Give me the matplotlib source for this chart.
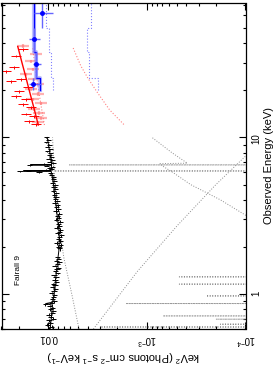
import numpy as np
import matplotlib
matplotlib.use("Agg")
import matplotlib.pyplot as plt
from matplotlib.ticker import FixedLocator, LogLocator, NullFormatter

plt.rcParams['font.family'] = ['Liberation Sans', 'DejaVu Sans']
plt.rcParams['mathtext.default'] = 'regular'

# ---- black spectrum (0.6-10 keV), E^2 F in units of 1e-3
blk_e = [0.60, 0.62, 0.64, 0.66, 0.68, 0.70, 0.72, 0.74, 0.76, 0.78, 0.80, 0.82,
         0.84, 0.86, 0.88, 0.90, 0.93, 0.96, 0.99, 1.02, 1.05, 1.08, 1.11, 1.14,
         1.17, 1.20, 1.24, 1.28, 1.32, 1.36, 1.40, 1.44, 1.48, 1.52, 1.56, 1.60,
         1.64, 1.68, 1.72]
blk_f = [9.8, 9.3, 10.3, 9.6, 9.9, 9.0, 9.5, 9.9, 9.2, 9.0, 9.6, 9.1,
         9.7, 10.8, 9.3, 8.8, 9.2, 8.9, 8.7, 9.3, 8.8, 8.5, 9.1, 8.6,
         8.9, 8.3, 8.6, 8.4, 8.8, 8.1, 8.5, 8.2, 8.0, 8.6, 8.1, 7.8,
         8.3, 7.9, 8.1]
blk_e2 = [1.96, 2.01, 2.06, 2.12, 2.18, 2.24, 2.30, 2.37, 2.44, 2.51, 2.58, 2.66,
          2.74, 2.82, 2.90, 2.99, 3.08, 3.17, 3.27, 3.37, 3.47, 3.58, 3.69, 3.80,
          3.92, 4.04, 4.16, 4.29, 4.42, 4.55, 4.69, 4.83, 4.98, 5.13, 5.28, 5.44,
          5.60, 5.76, 5.90, 6.00, 6.08, 6.14, 6.20, 6.30, 6.40, 6.50, 6.60, 6.68,
          6.76, 6.86, 7.00, 7.15, 7.30, 7.50, 7.70, 7.90, 8.15, 8.40, 8.70, 9.00,
          9.30, 9.65, 10.0]
blk_f2 = [7.7, 8.0, 7.5, 8.2, 7.6, 7.9, 7.8, 7.4, 8.1, 7.7, 7.6, 8.2,
          7.8, 8.0, 7.6, 8.3, 7.9, 8.1, 7.8, 8.4, 8.0, 8.3, 8.1, 8.6,
          8.2, 8.5, 8.4, 8.7, 8.3, 8.9, 8.5, 8.8, 8.6, 9.1, 8.7, 9.0,
          8.9, 9.3, 9.6, 12.5, 19.5, 16.0, 10.5, 9.3, 9.8, 9.1, 10.4, 15.5,
          11.0, 8.9, 9.7, 9.2, 9.9, 9.4, 9.8, 9.5, 10.3, 9.6, 10.2, 9.8,
          10.6, 10.0, 10.5]

# black total model (solid)
bmod_e = [0.60, 0.80, 0.85, 0.872, 0.89, 1.0, 1.5, 1.72, 1.96, 2.5, 3.0, 4.0,
          5.0, 5.9, 6.08, 6.11, 6.14, 6.3, 6.65, 6.68, 6.71, 6.9, 8.0, 10.0]
bmod_f = [9.6, 9.2, 9.1, 10.6, 9.0, 8.8, 8.2, 8.0, 7.8, 7.8, 8.1, 8.5,
          8.9, 9.3, 9.4, 18.0, 9.4, 9.4, 9.3, 15.2, 9.3, 9.3, 9.7, 10.3]

# black model components (gray dotted)
pl_e = [0.6, 1.0, 1.72, 3.0, 5.0, 10.0]
pl_f = [4.9e-3, 5.8e-3, 7.0e-3, 7.9e-3, 8.6e-3, 9.1e-3]
soft_e = [0.6, 1.4, 2.75, 5.0, 7.6, 10.0]
soft_f = [3.5e-3, 1.25e-3, 4.9e-4, 2.0e-4, 1.0e-4, 5.5e-5]
refl_e = [3.0, 4.0, 5.0, 6.0, 6.55, 6.8, 6.85, 8.0, 10.0]
refl_f = [8.5e-5, 1.8e-4, 3.6e-4, 5.5e-4, 6.9e-4, 7.4e-4, 3.9e-4, 5.6e-4, 8.9e-4]
line_e = [0.618, 0.644, 0.693, 0.727, 0.872, 0.975, 1.16, 1.29, 6.11, 6.68]
line_f = [2.95e-3, 1.8e-4, 2.0e-4, 6.9e-4, 1.64e-3, 2.5e-4, 4.7e-4, 4.7e-4, 8.7e-3, 6.2e-3]

# ---- red spectrum (12-40 keV), two sets
red_e = [36.5, 33.0, 26.4, 28.0, 23.5, 22.8, 20.9, 19.7, 18.3, 17.5, 16.3, 15.6,
         14.1, 13.6, 12.7, 12.1]
red_f = [0.0182, 0.0215, 0.0271, 0.0225, 0.0191, 0.0241, 0.0162, 0.0200, 0.0215,
         0.0170, 0.0182, 0.0151, 0.0170, 0.0141, 0.0158, 0.01346]
pink_e = [38.2, 33.9, 30.6, 27.2, 25.3, 23.5, 21.8, 20.3, 18.9, 17.5, 16.5, 15.1,
          14.3, 13.3, 12.5]
pink_f = [0.0182, 0.01346, 0.0151, 0.0144, 0.0170, 0.0141, 0.01284, 0.0151,
          0.01284, 0.0144, 0.01197, 0.0141, 0.01254, 0.01197, 0.01284]
red_mod_e = [12, 15, 20, 25, 30, 38]
red_mod_f = [0.0127, 0.0139, 0.0157, 0.0172, 0.0186, 0.0205]
red_pl_f = [0.0110, 0.0117, 0.0126, 0.0133, 0.0138, 0.0146]
red_refl_e = [12.1, 15.0, 19.4, 24.0, 28.6, 38.0]
red_refl_f = [1.72e-3, 2.4e-3, 3.2e-3, 4.0e-3, 4.7e-3, 5.7e-3]

# ---- blue spectrum (binned 20-75 keV)
bat_edges = [20, 24, 35, 50, 75]
bat_e = [21.8, 29.5, 42.2, 62.0]
bat_f = [0.0142, 0.01324, 0.0140, 0.01177]
bat_lo = [0.0120, 0.0120, 0.0122, 0.0090]
bat_hi = [0.0159, 0.0144, 0.0159, 0.0141]
bat_mod = [0.01216, 0.01346, 0.0140, 0.0140]
bat_pl = [0.0091, 0.00948, 0.00986, 0.0106]
bat_refl = [3.18e-3, 3.9e-3, 4.08e-3, 3.72e-3]

fig = plt.figure(figsize=(2.74, 3.69), dpi=100)
ax = fig.add_axes([1.5 / 274, 1 - 329 / 369, 244 / 274, 326 / 369])
ax.set_xscale('log')
ax.set_yscale('log')

gray = '#8c8c8c'
# model components
ax.plot(pl_f, pl_e, ls=':', color=gray, lw=0.7)
ax.plot(soft_f, soft_e, ls=':', color=gray, lw=0.7)
ax.plot(refl_f, refl_e, ls=':', color=gray, lw=0.7)
for e, f in zip(line_e, line_f):
    ax.plot([1e-6, f, 1e-6], [e * 0.998, e, e * 1.002], ls=':', color=gray, lw=0.7)

# black data (crosses) + model
for ee, ff in [(blk_e, blk_f), (blk_e2, blk_f2)]:
    ee = np.array(ee)
    ff = np.array(ff) * 1e-3
    half = np.diff(ee).mean() / 2
    ax.errorbar(ff, ee, xerr=0.06 * ff, yerr=half, fmt='none',
                ecolor='black', elinewidth=0.7)
ax.plot(np.array(bmod_f) * 1e-3, bmod_e, color='black', lw=0.7)

# red set
ax.plot(red_refl_f, red_refl_e, ls=':', color='#ff8080', lw=0.8)
ax.plot(red_pl_f, red_mod_e, ls=':', color='#ff8080', lw=0.8)
pf = np.array(pink_f)
ax.errorbar(pf, pink_e, xerr=0.14 * pf, yerr=0.025 * np.array(pink_e),
            fmt='none', ecolor='#ff6666', alpha=0.5, elinewidth=1.6)
rf = np.array(red_f)
ax.errorbar(rf, red_e, xerr=0.12 * rf, yerr=0.02 * np.array(red_e),
            fmt='none', ecolor='red', elinewidth=0.7)
ax.plot(red_mod_f, red_mod_e, color='red', lw=1.0)

# blue set
step_e = np.repeat(bat_edges, 2)[1:-1]
ax.plot(np.repeat(bat_pl, 2), step_e, ls=':', color='#8080ff', lw=0.8)
ax.plot(np.repeat(bat_refl, 2), step_e, ls=':', color='#8080ff', lw=0.8)
ax.plot(np.repeat(bat_mod, 2), step_e, color='#9999ff', lw=3.0, alpha=0.6)
ax.plot(np.repeat(bat_mod, 2), step_e, color='blue', lw=1.0)
bf = np.array(bat_f)
be = np.array(bat_e)
ax.errorbar(bf, be, xerr=[bf - np.array(bat_lo), np.array(bat_hi) - bf],
            yerr=[be - np.array(bat_edges[:-1]), np.array(bat_edges[1:]) - be],
            fmt='o', ms=2.5, color='blue', ecolor='#6666ff', elinewidth=1.0)

ax.set_xlim(0.03, 1e-4)
ax.set_ylim(0.6, 72)

ax.xaxis.set_major_locator(FixedLocator([1e-2, 1e-3, 1e-4]))
ax.set_xticklabels(['0.01', '$10^{-3}$', '$10^{-4}$'])
ax.xaxis.set_minor_locator(LogLocator(base=10, subs=np.arange(2, 10)))
ax.xaxis.set_minor_formatter(NullFormatter())
ax.yaxis.set_major_locator(FixedLocator([1, 10]))
ax.set_yticklabels(['1', '10'])
ax.yaxis.set_minor_locator(LogLocator(base=10, subs=np.arange(2, 10)))
ax.yaxis.set_minor_formatter(NullFormatter())
ax.yaxis.tick_right()
ax.yaxis.set_label_position('right')

ax.tick_params(which='both', direction='in', top=True, bottom=True,
               left=True, right=True, width=0.8, labelsize=7)
ax.tick_params(which='major', length=5)
ax.tick_params(which='minor', length=2.5)
ax.tick_params(axis='x', labelrotation=180, pad=3)
ax.tick_params(axis='y', labelrotation=90, pad=4)
for s in ax.spines.values():
    s.set_linewidth(0.9)

ax.set_xlabel('keV$^2$ (Photons cm$^{-2}$ s$^{-1}$ keV$^{-1}$)', rotation=180,
              fontsize=8, labelpad=1)
ax.set_ylabel('Observed Energy (keV)', rotation=90, fontsize=8, labelpad=2)
ax.text(0.068, 0.181, 'Fairall 9', transform=ax.transAxes, rotation=90,
        ha='center', va='center', fontsize=6)

fig.savefig('out.png', dpi=100)
